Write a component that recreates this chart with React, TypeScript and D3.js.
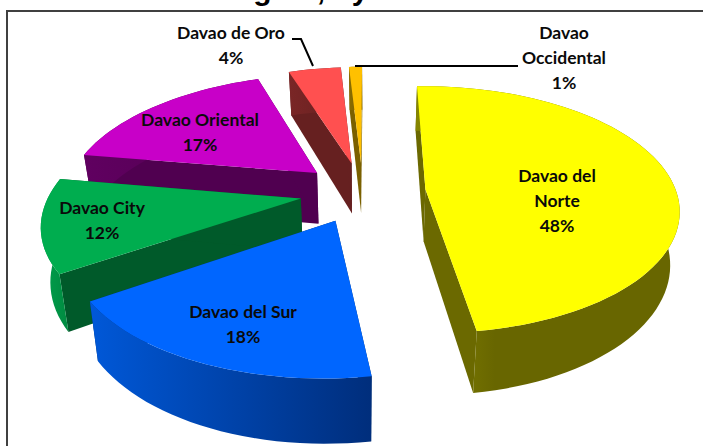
import React from "react";
import * as d3 from "d3";

const categories = ["Davao del Norte", "Davao del Sur", "Davao City", "Davao Oriental", "Davao de Oro", "Davao Occidental"];
const shares = [48, 18, 12, 17, 4, 1];
const topColors = ["#FFFF00", "#0066FF", "#00AD4F", "#C800C8", "#FF5050", "#FFC000"];
const wallColors = ["#6B6900", "#00306F", "#005A2A", "#500050", "#662020", "#7A6000"];
const outerLeft = ["#868600", "#0058D8", "#00A04C", "#600060", "#7A2626", "#8A6C00"];
const outerRight = ["#686600", "#002E7C", "#008A40", "#500050", "#662020", "#7A6000"];
const labelLines = [["Davao del", "Norte", "48%"], ["Davao del Sur", "18%"], ["Davao City", "12%"], ["Davao Oriental", "17%"], ["Davao de Oro", "4%"], ["Davao", "Occidental", "1%"]];
const labelX = [557, 243, 102, 200, 231, 564];
const labelY = [182, 318, 214, 126, 39, 39];
const title = "Davao Region, by Province";
const drawOrder = [3, 4, 5, 0, 2, 1];

const cx = 363, cy = 192, ax = 251, by = 121, persp = 0.165, explode = 0.25, depth = 52, shear = 6;
const rotation = -1.5 * Math.PI / 180;

function project(X: number, Z: number, low: boolean): [number, number] {
  const w = 1 - persp * Z;
  const shrink = low ? 0.97 : 1;
  return [cx + shrink * ax * X / w - shear * Z, cy + by * Z / w + (low ? depth / w : 0)];
}

const pie = d3.pie<number>().sort(null).startAngle(rotation).endAngle(rotation + 2 * Math.PI);
const arcs = pie(shares);
const pathOf = d3.line();

function sliceParts(i: number) {
  const a = arcs[i];
  const mid = (a.startAngle + a.endAngle) / 2;
  const ox = explode * Math.sin(mid), oz = -explode * Math.cos(mid);
  const n = Math.max(4, Math.ceil((a.endAngle - a.startAngle) / 0.04));
  const angles = d3.range(n + 1).map((k) => a.startAngle + ((a.endAngle - a.startAngle) * k) / n);
  const rim = (low: boolean) => angles.map((t) => project(ox + Math.sin(t), oz - Math.cos(t), low));
  const apex = (low: boolean) => project(ox, oz, low);
  const topRim = rim(false), lowRim = rim(true);
  const top = [apex(false), ...topRim];
  const wallA = [apex(false), topRim[0], lowRim[0], apex(true)];
  const wallB = [apex(false), topRim[n], lowRim[n], apex(true)];
  const outer = [...topRim, ...lowRim.slice().reverse()];
  const xs = outer.map((p) => p[0]);
  return { top, wallA, wallB, outer, x0: d3.min(xs)!, x1: d3.max(xs)! };
}

const font = "Lato, Carlito, sans-serif";

export default function App() {
  return (
    <svg width={703} height={446} style={{ position: "absolute", left: 0, top: 0, background: "#fff" }}>
      <defs>
        {drawOrder.map((i) => {
          const s = sliceParts(i);
          return (
            <linearGradient key={i} id={`g${i}`} gradientUnits="userSpaceOnUse" x1={s.x0} x2={s.x1} y1={0} y2={0}>
              <stop offset="0" stopColor={outerLeft[i]} />
              <stop offset={i === 0 ? 0.3 : 1} stopColor={outerRight[i]} />
            </linearGradient>
          );
        })}
      </defs>
      <text x={310} y={0} textAnchor="middle" fontFamily="Liberation Sans, Arial, sans-serif" fontWeight={700} fontSize={30}>{title}</text>
      <rect x={7} y={11} width={700} height={440} fill="none" stroke="#404040" strokeWidth={2} />
      {drawOrder.map((i) => {
        const s = sliceParts(i);
        return (
          <g key={i}>
            <path d={pathOf(s.wallA)! + "Z"} fill={wallColors[i]} />
            <path d={pathOf(s.wallB)! + "Z"} fill={wallColors[i]} />
            <path d={pathOf(s.outer)! + "Z"} fill={`url(#g${i})`} />
            <path d={pathOf(s.top)! + "Z"} fill={topColors[i]} />
          </g>
        );
      })}
      <polyline points="292,39 301,39 313,66" fill="none" stroke="#000" strokeWidth={2} />
      <polyline points="355,66 518,66" fill="none" stroke="#000" strokeWidth={2} />
      {categories.map((c, i) => (
        <text key={c} textAnchor="middle" fontFamily={font} fontWeight={700} fontSize={17.5} fill="#0a0a0a">
          {labelLines[i].map((l, k) => (
            <tspan key={k} x={labelX[i]} y={labelY[i] + k * 25}>{l}</tspan>
          ))}
        </text>
      ))}
    </svg>
  );
}
